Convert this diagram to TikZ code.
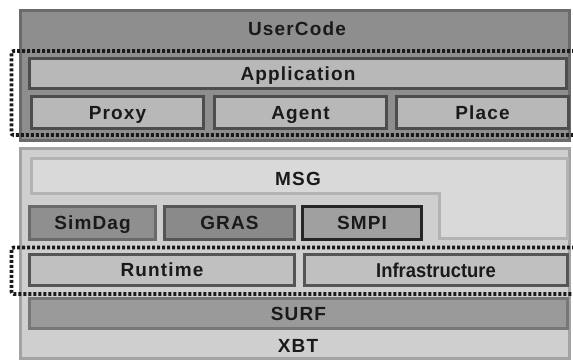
\documentclass[tikz,border=0pt]{standalone}
\usepackage{fontspec}
\usepackage{graphicx}
\setmainfont{Liberation Sans}[LetterSpace=6]
\newfontfamily\plainsans{Liberation Sans}
\definecolor{txt}{HTML}{1A1A1A}
\definecolor{ucfill}{HTML}{8E8E8E}
\definecolor{ucline}{HTML}{6B6B6B}
\definecolor{appfill}{HTML}{B8B8B8}
\definecolor{appline}{HTML}{4D4D4D}
\definecolor{lowfill}{HTML}{CFCFCF}
\definecolor{lowline}{HTML}{A3A3A3}
\definecolor{msgfill}{HTML}{D9D9D9}
\definecolor{msgline}{HTML}{B3B3B3}
\definecolor{sdfill}{HTML}{8F8F8F}
\definecolor{sdline}{HTML}{6A6A6A}
\definecolor{grasfill}{HTML}{8A8A8A}
\definecolor{grasline}{HTML}{555555}
\definecolor{smpifill}{HTML}{A0A0A0}
\definecolor{smpiline}{HTML}{262626}
\definecolor{rtfill}{HTML}{C0C0C0}
\definecolor{rtline}{HTML}{555555}
\definecolor{surffill}{HTML}{9A9A9A}
\definecolor{surfline}{HTML}{777777}
\begin{document}
\begin{tikzpicture}[x=1pt,y=-1pt,
  layer/.style={draw, line width=3pt, inner sep=0pt, outer sep=0pt, rectangle},
  lbl/.style={text=txt, font=\fontsize{19}{21}\selectfont\bfseries, inner sep=0pt, text height=13.6pt, text depth=0pt},
  dotbox/.style={draw=txt, line width=3.6pt, dash pattern=on 3pt off 2pt, rounded corners=2pt}
]
\useasboundingbox (0,0) rectangle (573,361);
\clip (0,0) rectangle (573,361);
\fill[white] (0,0) rectangle (573,361);
% upper block
\node[layer, draw=ucline, fill=ucfill, minimum width=549pt, minimum height=130pt] (uc) at (295,75.5) {};
\node[lbl] (uct) at (297,28.5) {UserCode};
\node[layer, draw=appline, fill=appfill, minimum width=537pt, minimum height=30pt] (app) at (298,73.5) {};
\node[lbl] at (app.center) {Application};
\node[layer, draw=appline, fill=appfill, minimum width=172pt, minimum height=32pt] (proxy) at (117.5,112.5) {};
\node[lbl] at (proxy.center) {Proxy};
\node[layer, draw=appline, fill=appfill, minimum width=172pt, minimum height=32pt] (agent) at (300.5,112.5) {};
\node[lbl] at (agent.center) {Agent};
\node[layer, draw=appline, fill=appfill, minimum width=172pt, minimum height=32pt] (place) at (482.5,112.5) {};
\node[lbl] at (place.center) {Place};
\draw[dotbox] (590,51) -- (11.5,51) -- (11.5,135) -- (590,135);
% lower block
\node[layer, draw=lowline, fill=lowfill, minimum width=549pt, minimum height=210pt] (low) at (295,253.5) {};
\draw[line width=3pt, draw=msgline, fill=msgfill] (31.5,158.5) -- (567.5,158.5) -- (567.5,238.5) -- (439.5,238.5) -- (439.5,193.5) -- (31.5,193.5) -- cycle;
\node[lbl] (msg) at (298,178.5) {MSG};
\node[layer, draw=sdline, fill=sdfill, minimum width=126pt, minimum height=33pt] (simdag) at (92.5,223) {};
\node[lbl] at (simdag.center) {SimDag};
\node[layer, draw=grasline, fill=grasfill, minimum width=130pt, minimum height=33pt] (gras) at (229.5,223) {};
\node[lbl] at (gras.center) {GRAS};
\node[layer, draw=smpiline, fill=smpifill, minimum width=119pt, minimum height=33pt] (smpi) at (362,223) {};
\node[lbl] at (smpi.center) {SMPI};
\node[layer, draw=rtline, fill=rtfill, minimum width=265pt, minimum height=31pt] (runtime) at (162,270) {};
\node[lbl] at (runtime.center) {Runtime};
\node[layer, draw=rtline, fill=rtfill, minimum width=263pt, minimum height=31pt] (infra) at (436,270) {};
\node[lbl, font=\fontsize{20}{22}\selectfont\plainsans\bfseries, text height=14.3pt] at (infra.center) {\scalebox{0.92}[1]{Infrastructure}};
\draw[dotbox] (590,247.5) -- (11.5,247.5) -- (11.5,294) -- (590,294);
\node[layer, draw=surfline, fill=surffill, minimum width=538pt, minimum height=30pt] (surf) at (298.5,313.5) {};
\node[lbl] at (surf.center) {SURF};
\node[lbl] (xbt) at (298,346) {XBT};
\end{tikzpicture}
\end{document}
